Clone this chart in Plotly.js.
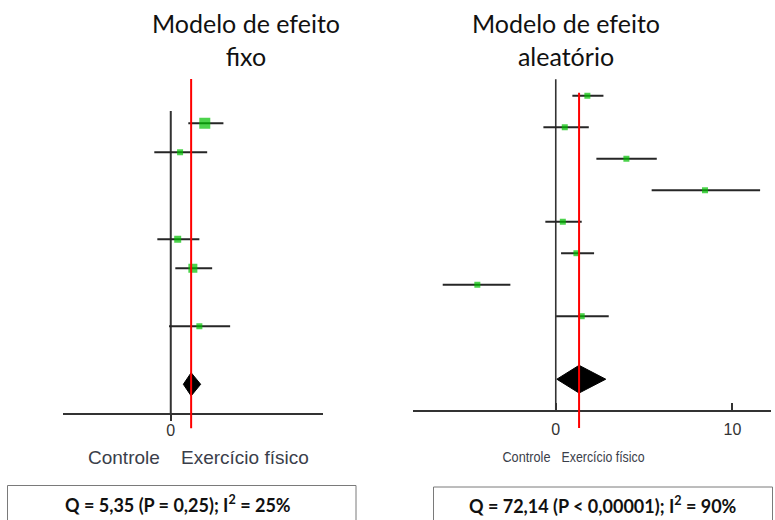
<!DOCTYPE html>
<html>
<head>
<meta charset="utf-8">
<script src="https://cdn.plot.ly/plotly-3.0.1.min.js"></script>
<style>
  html, body { margin: 0; padding: 0; background: #fff; }
  #chart { width: 775px; height: 520px; }
</style>
</head>
<body>
<div id="chart"></div>
<script>
// ---- Fixed-effect model (left forest plot) ----
const fixedRows = [1, 2, 5, 6, 8];
const fixedEst  = [1.57, 0.43, 0.32, 1.02, 1.32];
const fixedLow  = [0.81, -0.76, -0.62, 0.21, -0.08];
const fixedHigh = [2.43, 1.68, 1.32, 1.91, 2.74];
const fixedWeightSize = [11, 6, 7, 9, 6];
const fixedPooled = { row: 10, est: 0.94, low: 0.58, high: 1.38 };
const fixedStats = 'Q = 5,35 (P = 0,25); I<sup>2</sup> = 25%';

// ---- Random-effects model (right forest plot) ----
const randomRows = [1, 2, 3, 4, 5, 6, 7, 8];
const randomEst  = [1.79, 0.51, 4.00, 8.45, 0.40, 1.17, -4.44, 1.47];
const randomLow  = [0.94, -0.70, 2.30, 5.43, -0.59, 0.30, -6.40, 0.02];
const randomHigh = [2.70, 1.87, 5.72, 11.57, 1.47, 2.17, -2.57, 3.00];
const randomPooled = { row: 10, est: 1.32, low: 0.06, high: 2.83 };
const randomStats = 'Q = 72,14 (P &lt; 0,00001); I<sup>2</sup> = 90%';

const sideLabels = ['Controle', 'Exercício físico'];

// ---- page geometry helpers (pixels -> paper fractions) ----
const W = 775, H = 520;
const px = v => v / W;
const py = v => 1 - v / H;

const GREEN = 'rgb(0,192,0)';
const INK = '#262626';

function studyTrace(rows, est, lo, hi, sizes, xa, ya) {
  return {
    type: 'scatter', mode: 'markers', xaxis: xa, yaxis: ya,
    x: est, y: rows,
    marker: { symbol: 'square', size: sizes, color: GREEN, line: { width: 0 } },
    error_x: {
      type: 'data', symmetric: false,
      array: hi.map((h, i) => h - est[i]),
      arrayminus: lo.map((l, i) => est[i] - l),
      width: 0, thickness: 2, color: INK
    },
    hoverinfo: 'skip', showlegend: false
  };
}

function diamondTrace(p, halfHeight, xa, ya) {
  return {
    type: 'scatter', mode: 'lines', xaxis: xa, yaxis: ya,
    x: [p.low, p.est, p.high, p.est, p.low],
    y: [p.row, p.row - halfHeight, p.row, p.row + halfHeight, p.row],
    fill: 'toself', fillcolor: '#000', line: { color: '#000', width: 1 },
    hoverinfo: 'skip', showlegend: false
  };
}

const traces = [
  studyTrace(fixedRows, fixedEst, fixedLow, fixedHigh, fixedWeightSize, 'x', 'y'),
  diamondTrace(fixedPooled, 0.40, 'x', 'y'),
  studyTrace(randomRows, randomEst, randomLow, randomHigh, randomRows.map(() => 6), 'x2', 'y2'),
  diamondTrace(randomPooled, 0.44, 'x2', 'y2')
];

const tickFont = { family: '"Liberation Sans", Arial, sans-serif', size: 16, color: '#333' };

const axisCommon = {
  anchor: 'free', showline: true, linecolor: '#333', linewidth: 2,
  showgrid: false, zeroline: false, tickcolor: '#333', tickwidth: 2,
  tickfont: tickFont, fixedrange: true
};

const titleFont = { family: 'Lato, "Open Sans", sans-serif', size: 25, color: '#111' };
const statFont = { family: 'Lato, "Open Sans", sans-serif', size: 18, color: '#111', weight: 'bold' };
const sideFont = { family: '"Liberation Sans", Arial, sans-serif', size: 19, color: '#3a3e4a' };
const sideFontNarrow = { family: '"Liberation Sans", Arial, sans-serif', size: 14, color: '#3a3e4a' };

// drawn widths of the condensed right-panel labels
const narrowWidths = { 4: 48, 5: 83 };

const layout = {
  width: W, height: H,
  margin: { l: 0, r: 0, t: 0, b: 0 },
  paper_bgcolor: '#fff', plot_bgcolor: 'rgba(0,0,0,0)',
  showlegend: false,
  xaxis: Object.assign({}, axisCommon, {
    domain: [px(63.3), px(323.3)], range: [-4.96, 7.04], position: py(414),
    tickvals: [0], ticks: 'outside', ticklen: 6, ticklabelstandoff: -4
  }),
  yaxis: { domain: [py(440), py(60)], range: [11.921, -1.183], visible: false, fixedrange: true },
  xaxis2: Object.assign({}, axisCommon, {
    domain: [px(412.7), px(770.7)], range: [-8.10, 12.17], position: py(410.5),
    tickvals: [0, 10], ticks: 'inside', ticklen: 7, ticklabelstandoff: 4
  }),
  yaxis2: { domain: [py(440), py(60)], range: [11.93, -0.133], visible: false, anchor: 'x2', fixedrange: true },
  shapes: [
    // no-effect lines
    { type: 'line', xref: 'x', yref: 'y', x0: 0, x1: 0, y0: 0.576, y1: 11, layer: 'below',
      line: { color: '#333', width: 2 } },
    { type: 'line', xref: 'x2', yref: 'y2', x0: 0, x1: 0, y0: 0.479, y1: 11, layer: 'below',
      line: { color: '#333', width: 1.6 } },
    // pooled-estimate lines
    { type: 'line', xref: 'x', yref: 'y', x0: fixedPooled.est, x1: fixedPooled.est, y0: -0.528, y1: 11.517,
      line: { color: '#ff0000', width: 2 } },
    { type: 'line', xref: 'x2', yref: 'y2', x0: randomPooled.est, x1: randomPooled.est, y0: 0.905, y1: 11.55,
      line: { color: '#ff0000', width: 2 } },
    // heterogeneity boxes
    { type: 'rect', xref: 'paper', yref: 'paper', x0: px(7.5), x1: px(356), y0: py(485.5), y1: py(530),
      line: { color: '#7a7a7a', width: 1 }, fillcolor: 'rgba(0,0,0,0)' },
    { type: 'rect', xref: 'paper', yref: 'paper', x0: px(433.5), x1: px(772.5), y0: py(487), y1: py(530),
      line: { color: '#7a7a7a', width: 1 }, fillcolor: 'rgba(0,0,0,0)' }
  ],
  annotations: [
    { xref: 'paper', yref: 'paper', x: px(246), y: py(6), xanchor: 'center', yanchor: 'top',
      text: 'Modelo de efeito<br>fixo', showarrow: false, font: titleFont, align: 'center' },
    { xref: 'paper', yref: 'paper', x: px(566), y: py(6), xanchor: 'center', yanchor: 'top',
      text: 'Modelo de efeito<br>aleatório', showarrow: false, font: titleFont, align: 'center' },

    { xref: 'paper', yref: 'paper', x: px(161.5), y: py(457), xanchor: 'right', yanchor: 'middle',
      text: sideLabels[0], showarrow: false, font: sideFont },
    { xref: 'paper', yref: 'paper', x: px(178.5), y: py(457), xanchor: 'left', yanchor: 'middle',
      text: sideLabels[1], showarrow: false, font: sideFont },
    // right-panel labels are set in a condensed width (see below)
    { xref: 'paper', yref: 'paper', x: px(526.7), y: py(457), xanchor: 'center', yanchor: 'middle',
      text: sideLabels[0], showarrow: false, font: sideFontNarrow },
    { xref: 'paper', yref: 'paper', x: px(603.4), y: py(457), xanchor: 'center', yanchor: 'middle',
      text: sideLabels[1], showarrow: false, font: sideFontNarrow },

    { xref: 'paper', yref: 'paper', x: px(178), y: py(503.5), xanchor: 'center', yanchor: 'middle',
      text: fixedStats, showarrow: false, font: statFont },
    { xref: 'paper', yref: 'paper', x: px(603), y: py(505), xanchor: 'center', yanchor: 'middle',
      text: randomStats, showarrow: false, font: statFont }
  ]
};

Plotly.newPlot('chart', traces, layout, { staticPlot: true, displayModeBar: false }).then(gd => {
  // condense the right-panel side labels to a fixed drawn width
  gd.querySelectorAll('g.annotation').forEach(g => {
    const idx = g.getAttribute('data-index');
    if (narrowWidths[idx]) {
      const t = g.querySelector('text.annotation-text');
      if (t) {
        t.setAttribute('textLength', narrowWidths[idx]);
        t.setAttribute('lengthAdjust', 'spacingAndGlyphs');
      }
    }
  });
});
</script>
</body>
</html>
